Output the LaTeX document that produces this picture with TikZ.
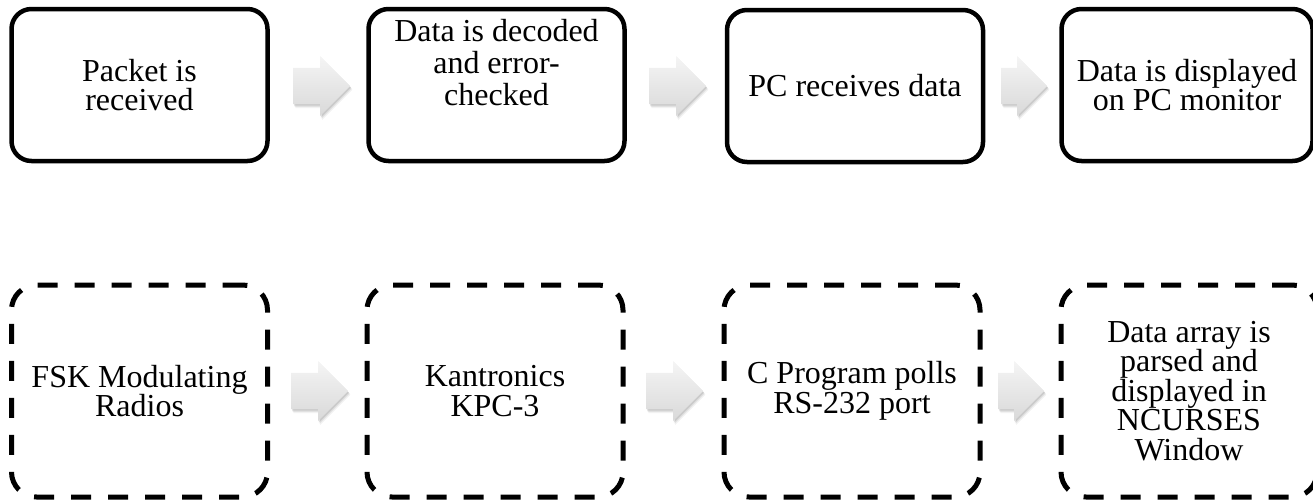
\documentclass[tikz,border=0pt]{standalone}
\usepackage{fontspec}
\setmainfont{Liberation Serif}
\usetikzlibrary{shapes.arrows,shadows}

\tikzset{
  stagebox/.style={draw, line width=4.5pt, rounded corners=20pt,
    minimum width=256pt, minimum height=152pt, inner sep=0pt,
    align=center, font=\fontsize{32}{29.5}\selectfont},
  hwbox/.style={stagebox, line width=5pt, rounded corners=25pt,
    dash pattern=on 20pt off 17pt, minimum height=212pt},
  flowarrow/.style={single arrow, draw=none, anchor=tail,
    inner xsep=0pt, inner ysep=18pt,
    minimum height=57pt, single arrow head extend=12pt, single arrow tip angle=90,
    top color=black!4, bottom color=black!15,
    general shadow={fill=black, opacity=0.10, shadow xshift=0.8pt, shadow yshift=-1.5pt},
    general shadow={fill=black, opacity=0.07, shadow xshift=1.5pt, shadow yshift=-2.6pt},
    general shadow={fill=black, opacity=0.05, shadow xshift=2.2pt, shadow yshift=-3.8pt}},
  shortarrow/.style={flowarrow, minimum height=46pt}
}

% text block lifted towards the top of its box
\newcommand{\liftedlines}[2]{%
  \raisebox{#1}[0pt][0pt]{\renewcommand{\arraystretch}{1.08}%
    \begin{tabular}{@{}c@{}}#2\end{tabular}}}

\begin{document}
\begin{tikzpicture}[x=1pt, y=-1pt]
  \useasboundingbox (0,0) rectangle (1313,499);

  % software stages
  \node[stagebox] (t1) at (139.5,85) {Packet is\\received};
  \node[stagebox] (t2) at (496.5,85) {\liftedlines{12pt}{Data is decoded\\and error-\\checked}};
  \node[stagebox] (t3) at (855,86) {PC receives data};
  \node[stagebox, minimum width=251pt] (t4) at (1187,85) {Data is displayed\\on PC monitor};

  \node[flowarrow]  (ta1) at (293,86) {};
  \node[flowarrow]  (ta2) at (649,86) {};
  \node[shortarrow] (ta3) at (1001,86) {};

  % hardware / program stages
  \node[hwbox] (b1) at (139.5,391) {FSK Modulating\\Radios};
  \node[hwbox] (b2) at (495,391) {Kantronics\\KPC-3};
  \node[hwbox] (b3) at (852,391) {C Program polls\\RS-232 port};
  \node[hwbox] (b4) at (1189,391) {Data array is\\parsed and\\displayed in\\NCURSES\\Window};

  \node[flowarrow]  (ba1) at (291,391) {};
  \node[flowarrow]  (ba2) at (646,391) {};
  \node[shortarrow] (ba3) at (998,391) {};
\end{tikzpicture}
\end{document}
